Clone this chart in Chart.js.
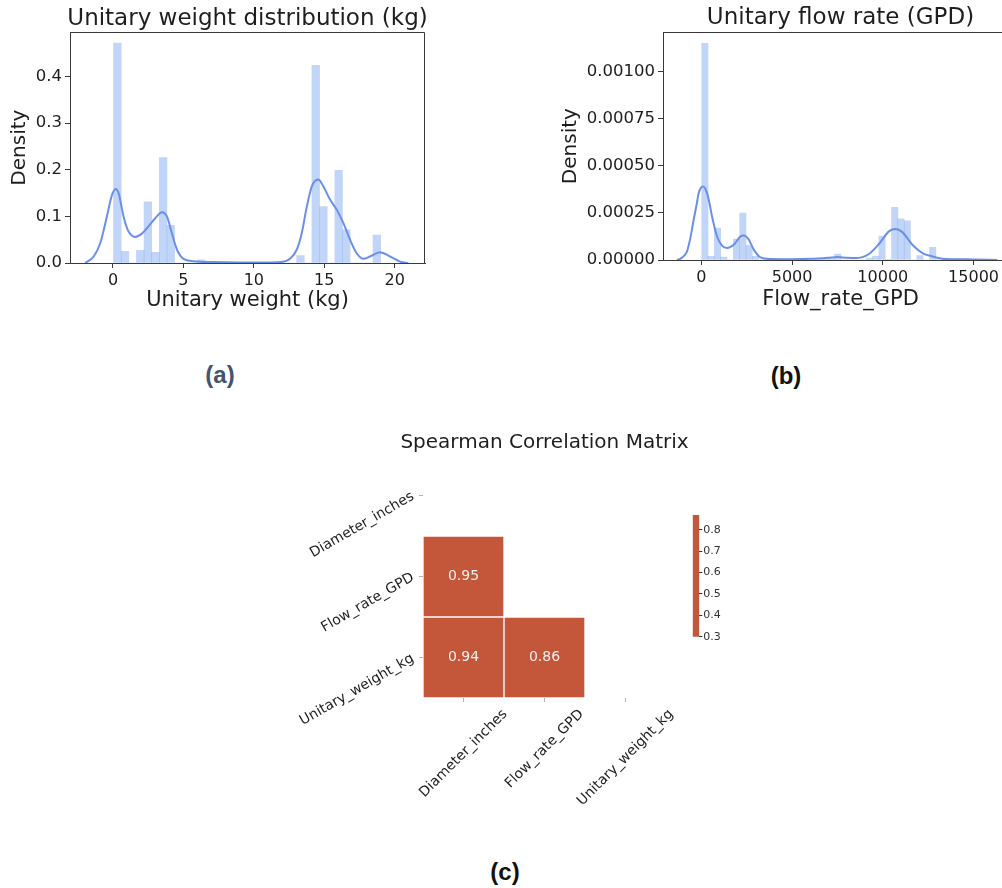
<!DOCTYPE html>
<html>
<head>
<meta charset="utf-8">
<script src="https://cdn.jsdelivr.net/npm/chart.js@4.4.1/dist/chart.umd.min.js"></script>
<style>
  html, body { margin: 0; padding: 0; background: #fff; }
  body { width: 1002px; height: 888px; overflow: hidden; position: relative; }
  canvas { position: absolute; }
  .panel {
    position: absolute;
    font-family: "Liberation Sans", Arial, sans-serif;
    font-weight: bold;
    font-size: 24px;
    transform: translate(-50%, -50%);
    white-space: nowrap;
  }
</style>
</head>
<body>
<canvas id="weight" width="440" height="325" style="left:0;top:0"></canvas>
<canvas id="flow" width="470" height="322" style="left:559px;top:0"></canvas>
<canvas id="corr" width="460" height="420" style="left:280px;top:420px"></canvas>
<canvas id="cbar" width="50" height="150" style="left:690px;top:500px"></canvas>
<div class="panel" style="left:220px;top:375px;color:#44546a">(a)</div>
<div class="panel" style="left:786px;top:376px;color:#111">(b)</div>
<div class="panel" style="left:505px;top:872px;color:#111">(c)</div>

<script>
// ---- Unitary weight (kg): histogram bins (centres) and densities ----
const weightBinX = [0.311, 0.853, 1.394, 1.936, 2.478, 3.019, 3.561, 4.103, 4.644, 5.186,
  5.728, 6.270, 6.811, 7.353, 7.895, 8.436, 8.978, 9.520, 10.061, 10.603,
  11.145, 11.686, 12.228, 12.770, 13.312, 13.853, 14.395, 14.937, 15.478, 16.020,
  16.562, 17.103, 17.645, 18.187, 18.729];
const weightBinY = [0.472, 0.025, 0, 0.027, 0.131, 0.023, 0.226, 0.081, 0, 0,
  0, 0.007, 0, 0, 0, 0, 0, 0, 0, 0,
  0, 0, 0, 0, 0.016, 0, 0.424, 0.121, 0, 0.199,
  0.071, 0, 0, 0, 0.060];
// kernel density estimate of the weights
const weightKdeX = [-1.96, -1.37, -0.9, -0.43, -0.07, 0.2, 0.4, 0.75, 1.1, 1.58,
  2.05, 2.53, 3.0, 3.47, 3.83, 4.18, 4.54, 5.0, 5.72, 7.0,
  9.0, 11.0, 11.87, 12.57, 13.05, 13.4, 13.76, 14.11, 14.58, 14.94,
  15.41, 15.89, 16.35, 16.83, 17.3, 17.77, 18.25, 18.96, 19.67, 20.38, 20.96];
const weightKdeY = [0.0, 0.014, 0.043, 0.1, 0.146, 0.159, 0.15, 0.1, 0.068, 0.056,
  0.063, 0.079, 0.096, 0.109, 0.1, 0.064, 0.029, 0.009, 0.004, 0.002,
  0.001, 0.001, 0.002, 0.009, 0.029, 0.064, 0.121, 0.164, 0.179, 0.164,
  0.136, 0.114, 0.086, 0.05, 0.021, 0.009, 0.014, 0.023, 0.014, 0.003, 0.0];
const weightXTicks = [0, 5, 10, 15, 20];
const weightYTicks = [0, 0.1, 0.2, 0.3, 0.4];

// ---- Unitary flow rate (GPD): histogram bins (centres) and densities ----
const flowBinX = [194, 543, 892, 1240, 1589, 1938, 2287, 2635, 2984, 3333,
  3681, 4030, 4379, 4727, 5076, 5425, 5774, 6122, 6471, 6820,
  7168, 7517, 7866, 8214, 8563, 8912, 9261, 9609, 9958, 10307,
  10655, 11004, 11353, 11701, 12050, 12399, 12748, 13096, 13445, 13794,
  14142, 14491, 14840];
const flowBinY = [0.001151, 0.000019, 0.00017, 0.000016, 0, 0.000111, 0.000249, 0.000076, 0.00002, 0,
  0, 0, 0, 0, 0, 0, 0, 0, 0.000008, 0.000008,
  0.000008, 0.000032, 0, 0, 0, 0, 0.00001, 0.00002, 0.000127, 0.000003,
  0.000279, 0.000219, 0.000208, 0, 0.000023, 0, 0.000067, 0, 0, 0,
  0.000005, 0, 0.000004];
const flowKdeX = [-1343, -1100, -790, -600, -423, -250, -147, 92, 313, 450,
  589, 865, 1141, 1418, 1785, 2152, 2337, 2613, 2889, 3256,
  3808, 5000, 6000, 7000, 7500, 8000, 8500, 9235, 9787, 10338,
  10706, 11076, 11628, 12180, 12732, 13284, 14000, 15000, 16320];
const flowKdeY = [0, 0.00001, 0.000046, 0.00012, 0.000214, 0.0003, 0.000355, 0.00039, 0.000355, 0.0003,
  0.000231, 0.000125, 0.000076, 0.000064, 0.000081, 0.000125, 0.00013, 0.000108, 0.000055, 0.000014,
  0.000005, 0.000004, 0.000006, 0.000012, 0.000016, 0.000012, 0.00001, 0.000032, 0.000085, 0.000152,
  0.000164, 0.000148, 0.000081, 0.000037, 0.000019, 0.000007, 0.000004, 0.000003, 0];
const flowXTicks = [0, 5000, 10000, 15000];
const flowYTicks = [0, 0.00025, 0.0005, 0.00075, 0.001];

// ---- Spearman correlation (lower triangle, diagonal masked) ----
const corrLabels = ['Diameter_inches', 'Flow_rate_GPD', 'Unitary_weight_kg'];
const corrLower = [
  [null, null, null],
  [0.95, null, null],
  [0.94, 0.86, null]
];
const cbarMin = 0.3;
const cbarMax = 0.869;
const cbarTicks = [0.3, 0.4, 0.5, 0.6, 0.7, 0.8];

// ---- styling ----
const INK = '#1e1e1e';
const SPINE = '#3a3a3a';
const BAR = 'rgba(100, 149, 237, 0.4)';
const LINE = '#6b8fe9';
const CELL = '#c4563a';
const FONT = '"DejaVu Sans", sans-serif';

Chart.defaults.font.family = FONT;
Chart.defaults.color = INK;

// top and right frame lines of the density panels
const framePlugin = {
  id: 'frame',
  afterDraw(chart) {
    const { ctx, chartArea: a } = chart;
    ctx.save();
    ctx.strokeStyle = SPINE;
    ctx.lineWidth = 1;
    ctx.beginPath();
    const t = Math.round(a.top) + 0.5;
    const r = Math.round(a.right) - 0.5;
    ctx.moveTo(a.left, t);
    ctx.lineTo(r, t);
    ctx.lineTo(r, a.bottom);
    ctx.stroke();
    ctx.restore();
  }
};

// panel title centred over the plotting area, drawn at its natural width
const panelTitlePlugin = {
  id: 'panelTitle',
  afterDraw(chart, args, opts) {
    if (!opts || !opts.text) return;
    const { ctx, chartArea: a } = chart;
    ctx.save();
    ctx.font = opts.size + 'px ' + FONT;
    ctx.fillStyle = INK;
    ctx.textAlign = 'center';
    ctx.textBaseline = 'middle';
    ctx.fillText(opts.text, (a.left + a.right) / 2, opts.y);
    ctx.restore();
  }
};

function densityChart(id, o) {
  return new Chart(document.getElementById(id), {
    type: 'bar',
    data: {
      datasets: [
        {
          type: 'line',
          data: o.kdeX.map((x, i) => ({ x, y: o.kdeY[i] })),
          borderColor: LINE,
          borderWidth: 2,
          pointRadius: 0,
          cubicInterpolationMode: 'monotone',
          order: 0
        },
        {
          type: 'bar',
          data: o.binX.map((x, i) => ({ x, y: o.binY[i] })),
          backgroundColor: BAR,
          borderWidth: 0,
          barPercentage: 1,
          categoryPercentage: 1,
          order: 1
        }
      ]
    },
    options: {
      responsive: false,
      animation: false,
      devicePixelRatio: 1,
      layout: { padding: { left: 0, top: o.padTop, bottom: 0, right: o.padRight } },
      plugins: {
        legend: { display: false },
        tooltip: { enabled: false },
        panelTitle: { text: o.title, size: 23, y: o.titleY }
      },
      scales: {
        x: {
          type: 'linear', min: o.xMin, max: o.xMax, offset: false,
          afterBuildTicks: s => { s.ticks = o.xTicks.map(v => ({ value: v })); },
          ticks: { font: { size: 16 }, color: INK, maxRotation: 0, autoSkip: false,
                   padding: 3, callback: v => String(v) },
          grid: { offset: false, drawOnChartArea: false, tickLength: 5, color: SPINE },
          border: { display: true, color: SPINE, width: 1 },
          title: { display: true, text: o.xTitle, font: { size: 21 }, color: INK,
                   padding: { top: 0, bottom: o.xTitlePad } },
          afterFit: s => { s.height = o.xHeight; }
        },
        y: {
          type: 'linear', min: 0, max: o.yMax,
          afterBuildTicks: s => { s.ticks = o.yTicks.map(v => ({ value: v })); },
          ticks: { font: { size: 16.5 }, color: INK, padding: 3, autoSkip: false,
                   callback: v => v.toFixed(o.yDigits) },
          grid: { offset: false, drawOnChartArea: false, tickLength: 5, color: SPINE },
          border: { display: true, color: SPINE, width: 1 },
          title: { display: true, text: 'Density', font: { size: 20 }, color: INK,
                   padding: { top: o.yTitlePad, bottom: 0 } },
          afterFit: s => { s.width = o.yWidth; }
        }
      }
    },
    plugins: [framePlugin, panelTitlePlugin]
  });
}

densityChart('weight', {
  title: 'Unitary weight distribution (kg)',
  xTitle: 'Unitary weight (kg)',
  binX: weightBinX, binY: weightBinY, kdeX: weightKdeX, kdeY: weightKdeY,
  xMin: -3.05, xMax: 22.15, xTicks: weightXTicks,
  yMax: 0.495, yTicks: weightYTicks, yDigits: 1,
  yWidth: 70, xHeight: 62, padRight: 15, padTop: 32.3, titleY: 19,
  xTitlePad: 12, yTitlePad: 8
});

densityChart('flow', {
  title: 'Unitary flow rate (GPD)',
  xTitle: 'Flow_rate_GPD',
  binX: flowBinX, binY: flowBinY, kdeX: flowKdeX, kdeY: flowKdeY,
  xMin: -2114, xMax: 17450, xTicks: flowXTicks,
  yMax: 0.001209, yTicks: flowYTicks, yDigits: 5,
  yWidth: 104, xHeight: 62, padRight: 11, padTop: 32.3, titleY: 18.5,
  xTitlePad: 10, yTitlePad: 0
});

// ---- correlation heatmap ----
const corrDatasets = [];
corrLower.forEach((row, r) => {
  if (row.every(v => v === null)) return;
  corrDatasets.push({
    row: r,
    data: row.map(v => (v === null ? null : [r, r + 1])),
    backgroundColor: CELL,
    borderColor: '#ffffff',
    borderWidth: 1,
    borderSkipped: false,
    barPercentage: 1,
    categoryPercentage: 1,
    grouped: false
  });
});

const cellTextPlugin = {
  id: 'cellText',
  afterDatasetsDraw(chart) {
    const ctx = chart.ctx;
    ctx.save();
    ctx.font = '14px ' + FONT;
    ctx.fillStyle = '#f7efec';
    ctx.textAlign = 'center';
    ctx.textBaseline = 'middle';
    chart.data.datasets.forEach((ds, di) => {
      const meta = chart.getDatasetMeta(di);
      meta.data.forEach((el, c) => {
        const v = corrLower[ds.row][c];
        if (v === null) return;
        const p = el.getCenterPoint();
        ctx.fillText(v.toFixed(2), p.x, p.y);
      });
    });
    ctx.restore();
  }
};

// column names below the matrix, rotated 45 degrees and centred on their ticks
const columnLabelPlugin = {
  id: 'columnLabels',
  afterDraw(chart) {
    const ctx = chart.ctx;
    const sx = chart.scales.x;
    const size = 14;
    ctx.save();
    ctx.font = size + 'px ' + FONT;
    ctx.fillStyle = INK;
    ctx.textAlign = 'center';
    ctx.textBaseline = 'middle';
    const top = chart.chartArea.bottom + 10;
    corrLabels.forEach((lab, i) => {
      const x = sx.getPixelForTick(i);
      const w = ctx.measureText(lab).width;
      const half = (w + size * 0.8) * Math.SQRT1_2 / 2;
      ctx.save();
      ctx.translate(x, top + half);
      ctx.rotate(-Math.PI / 4);
      ctx.fillText(lab, 0, 0);
      ctx.restore();
    });
    ctx.restore();
  }
};

new Chart(document.getElementById('corr'), {
  type: 'bar',
  data: { labels: corrLabels, datasets: corrDatasets },
  options: {
    responsive: false,
    animation: false,
    devicePixelRatio: 1,
    layout: { padding: { left: 0, top: 35, bottom: 0, right: 74 } },
    plugins: {
      legend: { display: false },
      tooltip: { enabled: false },
      panelTitle: { text: 'Spearman Correlation Matrix', size: 20, y: 23 }
    },
    scales: {
      x: {
        type: 'category', offset: true,
        ticks: { display: false },
        grid: { offset: false, drawOnChartArea: false, tickLength: 4, color: '#b4b4b4' },
        border: { display: false },
        afterFit: s => { s.height = 142; }
      },
      y: {
        type: 'linear', min: 0, max: corrLabels.length, reverse: true,
        afterBuildTicks: s => { s.ticks = corrLabels.map((_, i) => ({ value: i + 0.5 })); },
        ticks: { callback: (v, i) => corrLabels[i], minRotation: 30, maxRotation: 30,
                 font: { size: 14 }, color: INK, padding: 6 },
        grid: { drawOnChartArea: false, tickLength: 4, color: '#b4b4b4' },
        border: { display: false },
        afterFit: s => { s.width = 143; }
      }
    }
  },
  plugins: [cellTextPlugin, columnLabelPlugin, panelTitlePlugin]
});

// ---- colour bar ----
new Chart(document.getElementById('cbar'), {
  type: 'bar',
  data: {
    labels: [''],
    datasets: [{
      data: [[cbarMin, cbarMax]],
      backgroundColor: CELL,
      borderWidth: 0,
      barPercentage: 1,
      categoryPercentage: 1
    }]
  },
  options: {
    responsive: false,
    animation: false,
    devicePixelRatio: 1,
    layout: { padding: { left: 2.7, top: 15, bottom: 13.3, right: 0 } },
    plugins: { legend: { display: false }, tooltip: { enabled: false } },
    scales: {
      x: { display: false },
      y: {
        position: 'right', min: cbarMin, max: cbarMax,
        afterBuildTicks: s => { s.ticks = cbarTicks.map(v => ({ value: v })); },
        ticks: { font: { size: 11 }, color: '#333', padding: 1, callback: v => v.toFixed(1) },
        grid: { drawOnChartArea: false, tickLength: 3, color: '#333' },
        border: { display: false },
        afterFit: s => { s.width = 40.7; }
      }
    }
  }
});
</script>
</body>
</html>
